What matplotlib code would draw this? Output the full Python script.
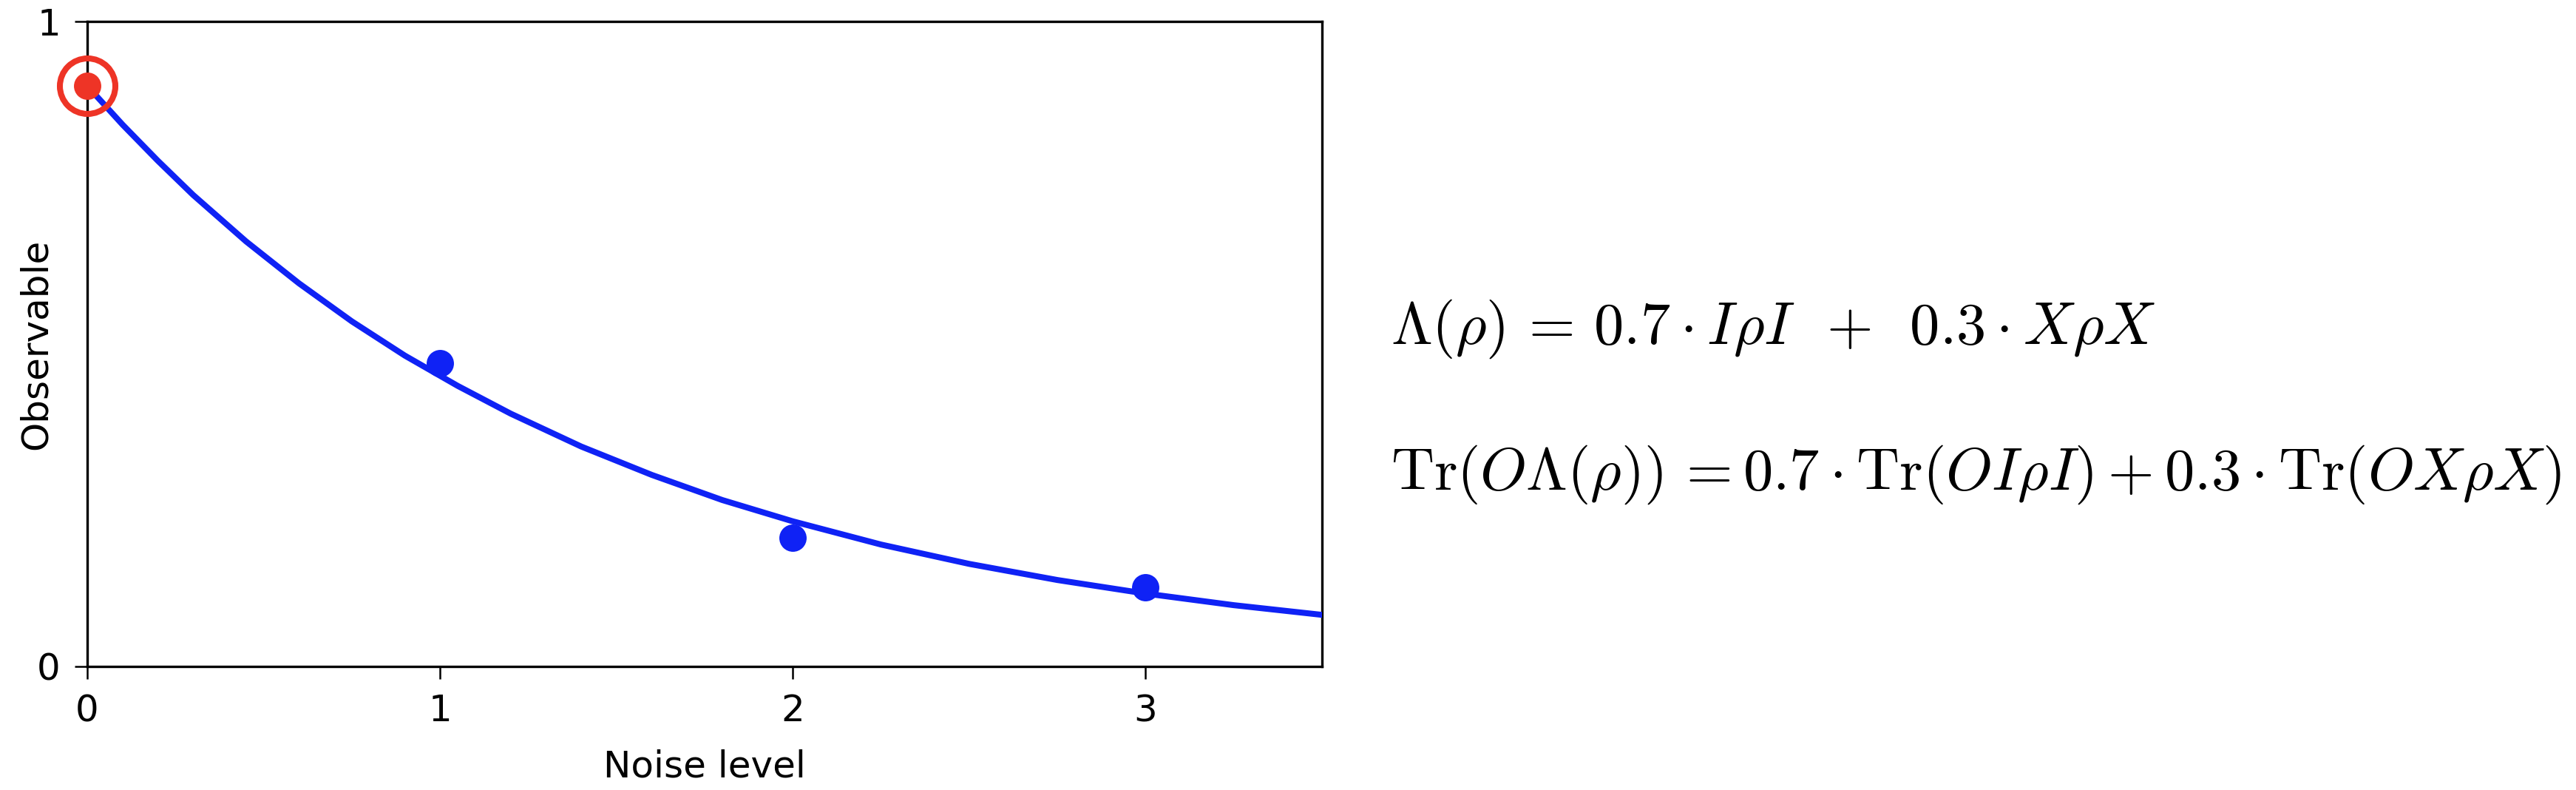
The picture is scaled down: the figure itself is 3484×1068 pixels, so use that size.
import matplotlib
matplotlib.use("Agg")
import matplotlib.pyplot as plt
import numpy as np

# data
noise_levels = [1, 2, 3]
measured = [0.470, 0.200, 0.123]
zero_noise = [0.0]
extrapolated = [0.90]

# fitted curve, sampled by eye along the drawn line
curve_x = [0.0, 0.1, 0.2, 0.3, 0.45, 0.6, 0.75, 0.9, 1.05, 1.2,
           1.4, 1.6, 1.8, 2.0, 2.25, 2.5, 2.75, 3.0, 3.25, 3.5]
curve_y = [0.900, 0.840, 0.784, 0.731, 0.659, 0.594, 0.535, 0.482, 0.435, 0.392,
           0.341, 0.297, 0.258, 0.225, 0.189, 0.159, 0.134, 0.113, 0.095, 0.080]

xticks = [0, 1, 2, 3]
yticks = [0, 1]

blue = '#0F22F5'
red = '#EE3426'

plt.rcParams['mathtext.fontset'] = 'cm'

fig = plt.figure(figsize=(17.42, 5.34), dpi=200)
ax = fig.add_axes([0.0339, 0.1564, 0.4793, 0.8164])

ax.plot(curve_x, curve_y, '-', color=blue, lw=2.9, zorder=3)
ax.plot(noise_levels, measured, 'o', color=blue, ms=13.3, mec='none', zorder=4)
ax.plot(zero_noise, extrapolated, 'o', color=red, ms=13.3, mec='none', zorder=5, clip_on=False)
ax.plot(zero_noise, extrapolated, 'o', mfc='none', mec=red, ms=27, mew=2.9, zorder=5, clip_on=False)

ax.set_xlim(0, 3.5)
ax.set_ylim(0, 1)
ax.set_xticks(xticks)
ax.set_yticks(yticks)
ax.tick_params(labelsize=18, length=6, width=0.9, pad=7)
for s in ax.spines.values():
    s.set_linewidth(1.2)

ax.set_xlabel("Noise level", fontsize=18, labelpad=10)
ax.set_ylabel("Observable", fontsize=18)
ax.yaxis.set_label_coords(-0.027, 0.5)

eq1 = r'$\Lambda(\rho)\,=\,0.7\cdot I\rho I\ \,+\ \,0.3\cdot X\rho X$'
eq2 = r'$\mathrm{Tr}(O\Lambda(\rho))\,=0.7\cdot\mathrm{Tr}(OI\rho I) + 0.3\cdot\mathrm{Tr}(OX\rho X)$'
fig.text(0.540, 0.5646, eq1, fontsize=29, ha='left', va='baseline')
fig.text(0.540, 0.380, eq2, fontsize=29, ha='left', va='baseline')

fig.savefig('out.png', dpi=200, facecolor='white')
